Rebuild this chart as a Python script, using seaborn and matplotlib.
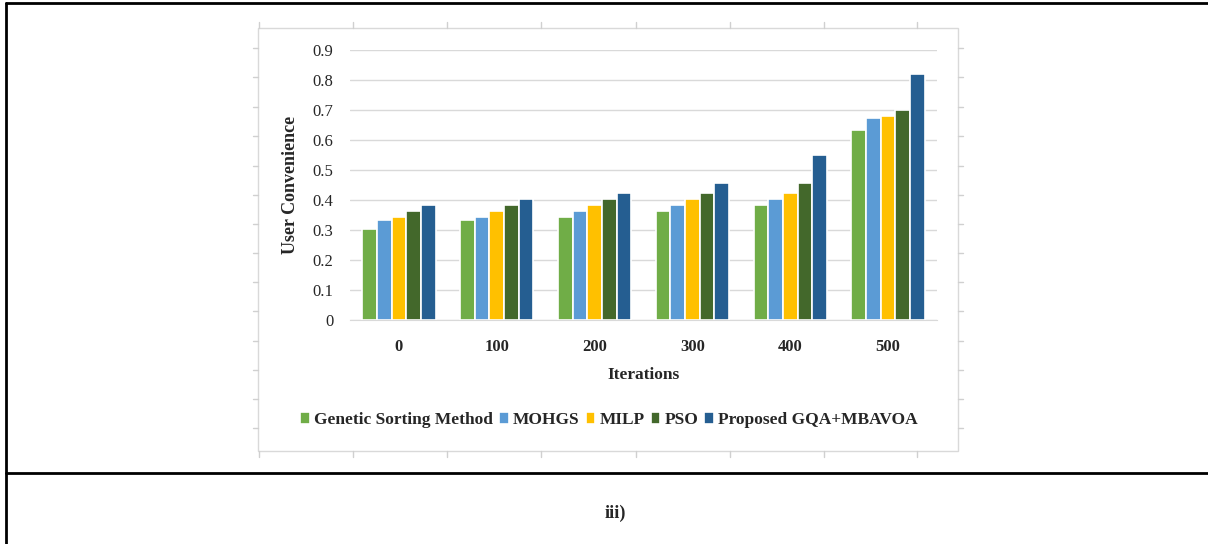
import numpy as np
import pandas as pd
import seaborn as sns
import matplotlib.pyplot as plt
from matplotlib.lines import Line2D
from matplotlib.patches import Rectangle

# values
iterations = ["0", "100", "200", "300", "400", "500"]
methods = ["Genetic Sorting Method", "MOHGS", "MILP", "PSO", "Proposed GQA+MBAVOA"]
genetic = [0.305, 0.335, 0.343, 0.365, 0.385, 0.633]
mohgs = [0.335, 0.343, 0.365, 0.385, 0.402, 0.672]
milp = [0.343, 0.365, 0.385, 0.402, 0.422, 0.680]
pso = [0.365, 0.385, 0.402, 0.422, 0.457, 0.700]
proposed = [0.385, 0.402, 0.422, 0.457, 0.550, 0.820]
colors = ["#70AD47", "#5B9BD5", "#FFC000", "#43682B", "#255E91"]

series = [genetic, mohgs, milp, pso, proposed]
df = pd.DataFrame({
    "Iterations": iterations * len(methods),
    "Method": np.repeat(methods, len(iterations)),
    "Value": np.concatenate(series),
})

sns.set_style("white")
plt.rcParams["font.family"] = ["Liberation Serif", "DejaVu Serif"]

fig = plt.figure(figsize=(12.08, 5.44), dpi=100)
W, H = 1208, 544

# outer table frame
fig.add_artist(Line2D([6 / W, 6 / W], [0, 1 - 3 / H], color="black", lw=2))
fig.add_artist(Line2D([6 / W, 1], [1 - 3 / H, 1 - 3 / H], color="black", lw=2))
fig.add_artist(Line2D([6 / W, 1], [1 - 473 / H, 1 - 473 / H], color="black", lw=2))

# chart box with faint ticks like the pasted picture
fig.add_artist(Rectangle((258 / W, 1 - 451 / H), 700 / W, 423 / H, fill=False,
                         edgecolor="#D9D9D9", lw=1))
for x in [259, 353, 447, 541, 636, 730, 824, 917]:
    fig.add_artist(Line2D([x / W, x / W], [1 - 28 / H, 1 - 22 / H], color="#D0D0D0", lw=1))
    fig.add_artist(Line2D([x / W, x / W], [1 - 451 / H, 1 - 457 / H], color="#D0D0D0", lw=1))
for y in [48, 77, 107, 136, 166, 195, 224, 253, 282, 311, 341, 370, 399, 428]:
    fig.add_artist(Line2D([253 / W, 258 / W], [1 - y / H, 1 - y / H], color="#D0D0D0", lw=1))
    fig.add_artist(Line2D([958 / W, 963 / W], [1 - y / H, 1 - y / H], color="#D0D0D0", lw=1))

ax = fig.add_axes([350 / W, 1 - 320 / H, 587 / W, 270 / H])
sns.barplot(data=df, x="Iterations", y="Value", hue="Method", palette=colors,
            saturation=1, width=0.75, edgecolor="white", linewidth=1.2, ax=ax, legend=True)

ax.set_ylim(0, 0.9)
ax.set_yticks(np.arange(0, 0.91, 0.1))
ax.set_yticklabels(["0"] + [f"{v:.1f}" for v in np.arange(0.1, 0.91, 0.1)], fontsize=12)
ax.yaxis.grid(True, color="#D9D9D9", lw=1)
ax.set_axisbelow(True)
for s in ["top", "right", "left"]:
    ax.spines[s].set_visible(False)
ax.spines["bottom"].set_color("#D9D9D9")
ax.tick_params(axis="y", length=0, pad=12)
ax.tick_params(axis="x", length=0, pad=14)
for lab in ax.get_xticklabels():
    lab.set_fontweight("bold")
    lab.set_fontsize(12)

ax.set_xlabel("Iterations", fontsize=12.5, fontweight="bold", labelpad=8)
ax.set_ylabel("User Convenience", fontsize=13, fontweight="bold", labelpad=10)

handles, labels = ax.get_legend_handles_labels()
ax.legend_.remove()
fig.legend(handles, labels, loc="center", bbox_to_anchor=(609 / W, 1 - 420 / H), ncol=5,
           frameon=False, handlelength=0.55, handleheight=0.65, handletextpad=0.25,
           columnspacing=0.35, prop={"weight": "bold", "size": 12.5})

fig.text(615 / W, 1 - 513 / H, "iii)", ha="center", va="center", fontsize=13, fontweight="bold")

fig.savefig("out.png", dpi=100)
